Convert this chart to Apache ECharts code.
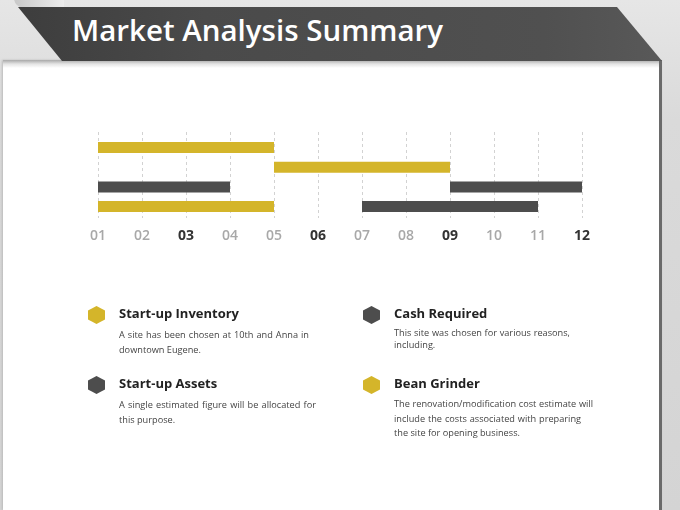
<!doctype html>
<html lang="en">
<head>
    <meta charset="UTF-8">
    <title>Market Analysis Summary</title>
    <script src="https://cdn.jsdelivr.net/npm/echarts@6/dist/echarts.min.js"></script>
    <style>
        * {
            margin: 0;
            padding: 0;
        }

        body {
            width: 680px;
            height: 510px;
            overflow: hidden;
            position: relative;
            font-family: "Open Sans", "Noto Sans", sans-serif;
            background: linear-gradient(to bottom, #e6e6e6 0, #dadada 120px, #d4d4d4 100%);
        }

        .fold {
            position: absolute;
            left: 14px;
            top: -6px;
            width: 50px;
            height: 14px;
            border-radius: 0 0 0 10px;
            background: linear-gradient(to right, #c8c8c8, #ececec);
        }

        .banner {
            position: absolute;
            left: 0;
            top: 0;
            width: 680px;
            height: 62px;
            clip-path: polygon(18px 7px, 617px 7px, 662px 61px, 62px 61px);
            background: linear-gradient(to right, #3c3c3c 0, #4a4a4a 30%, #505050 80%, #5a5a5a 100%);
        }

        .banner h1 {
            position: absolute;
            left: 72px;
            top: 9px;
            color: #fff;
            font-size: 29.5px;
            font-weight: 600;
            white-space: nowrap;
        }

        .panel {
            position: absolute;
            left: 3px;
            top: 60px;
            width: 656px;
            height: 450px;
            background: linear-gradient(to bottom, #a8a8a8 0, #e4e4e4 4px, #ffffff 8px);
            border-right: 3px solid #6a6a6a;
            box-shadow: -1px 0 2px #bbb;
        }

        #chart {
            position: absolute;
            left: 0;
            top: 0;
            width: 680px;
            height: 510px;
        }

        .item {
            position: absolute;
        }

        .hex {
            position: absolute;
            width: 17px;
            height: 18px;
            clip-path: polygon(50% 0, 100% 25%, 100% 75%, 50% 100%, 0 75%, 0 25%);
        }

        .item h3 {
            position: absolute;
            white-space: nowrap;
            font-size: 13px;
            font-weight: 700;
            color: #222;
        }

        .item .line {
            position: absolute;
            white-space: nowrap;
            font-size: 9.2px;
            color: #444;
        }

        .item .line.full {
            text-align: justify;
            text-align-last: justify;
        }
    </style>
</head>
<body>
<div class="fold"></div>
<div class="panel"></div>
<div class="banner"><h1>Market Analysis Summary</h1></div>
<div id="chart"></div>
<div id="notes"></div>

<script type="application/javascript">
    // month ticks along the bottom
    const monthLabels = ['01', '02', '03', '04', '05', '06', '07', '08', '09', '10', '11', '12'];
    const strongMonths = ['03', '06', '09', '12'];

    // one entry per bar: row (1 = top), start month, end month, tone
    const barRow = [1, 2, 3, 3, 4, 4];
    const barStart = [1, 5, 1, 9, 1, 7];
    const barEnd = [5, 9, 4, 12, 5, 11];
    const barTone = ['gold', 'gold', 'dark', 'dark', 'gold', 'dark'];

    const toneColor = {gold: '#d4b52a', dark: '#4d4d4d'};

    // notes under the chart, one array of lines each
    const noteTitles = ['Start-up Inventory', 'Start-up Assets', 'Cash Required', 'Bean Grinder'];
    const noteLines = [
        ['A site has been chosen at 10th and Anna in', 'downtown Eugene.'],
        ['A single estimated figure will be allocated for', 'this purpose.'],
        ['This site was chosen for various reasons,', 'including.'],
        ['The renovation/modification cost estimate will', 'include the costs associated with preparing', 'the site for opening business.']
    ];
    const noteTones = ['gold', 'dark', 'dark', 'gold'];

    const notePos = [
        {x: 88, y: 306, w: [190], lh: 15},
        {x: 88, y: 376, w: [197], lh: 15},
        {x: 363, y: 306, w: [176], lh: 12},
        {x: 363, y: 376, w: [199, 187], lh: 14.5}
    ];

    const notes = document.getElementById('notes');
    noteTitles.forEach(function (title, i) {
        const p = notePos[i];
        const el = document.createElement('div');
        el.className = 'item';
        el.style.left = p.x + 'px';
        el.style.top = p.y + 'px';
        let html = '<div class="hex" style="left:0;top:0;background:' + toneColor[noteTones[i]] + '"></div>' +
            '<h3 style="left:31px;top:-2px">' + title + '</h3>';
        noteLines[i].forEach(function (line, k) {
            const w = p.w[k];
            const style = 'left:31px;top:' + (21 + k * p.lh) + 'px;line-height:' + p.lh + 'px;' +
                (w ? 'width:' + w + 'px;' : '');
            html += '<div class="line' + (w ? ' full' : '') + '" style="' + style + '">' + line + '</div>';
        });
        el.innerHTML = html;
        notes.appendChild(el);
    });

    const barData = barRow.map(function (row, i) {
        return {
            value: [row, barStart[i], barEnd[i]],
            itemStyle: {color: toneColor[barTone[i]]}
        };
    });

    const chart = echarts.init(document.getElementById('chart'), null, {renderer: 'canvas'});

    const option = {
        animation: false,
        backgroundColor: 'transparent',
        grid: {
            left: 98,
            top: 132,
            width: 484,
            height: 86
        },
        xAxis: {
            type: 'value',
            min: 1,
            max: 12,
            interval: 1,
            axisLine: {show: false},
            axisTick: {show: false},
            splitLine: {
                show: true,
                lineStyle: {color: '#d2d2d2', type: [3, 3], width: 1}
            },
            axisLabel: {
                margin: 11,
                formatter: function (value) {
                    const label = monthLabels[value - 1];
                    return strongMonths.indexOf(label) >= 0 ? '{b|' + label + '}' : '{l|' + label + '}';
                },
                rich: {
                    b: {color: '#333', fontWeight: 'bold', fontSize: 14, fontFamily: 'Open Sans'},
                    l: {color: '#a8a8a8', fontWeight: 600, fontSize: 14, fontFamily: 'Open Sans'}
                }
            }
        },
        yAxis: {
            type: 'value',
            inverse: true,
            min: 0.21,
            max: 4.58,
            show: false,
            splitLine: {show: false}
        },
        series: [
            {
                type: 'custom',
                encode: {x: [1, 2], y: 0},
                renderItem: function (params, api) {
                    const row = api.value(0);
                    const a = api.coord([api.value(1), row]);
                    const b = api.coord([api.value(2), row]);
                    const h = 11;
                    return {
                        type: 'rect',
                        shape: {x: a[0], y: a[1] - h / 2, width: b[0] - a[0], height: h},
                        style: {fill: api.visual('color')}
                    };
                },
                data: barData
            }
        ]
    };

    chart.setOption(option);
</script>
</body>
</html>
